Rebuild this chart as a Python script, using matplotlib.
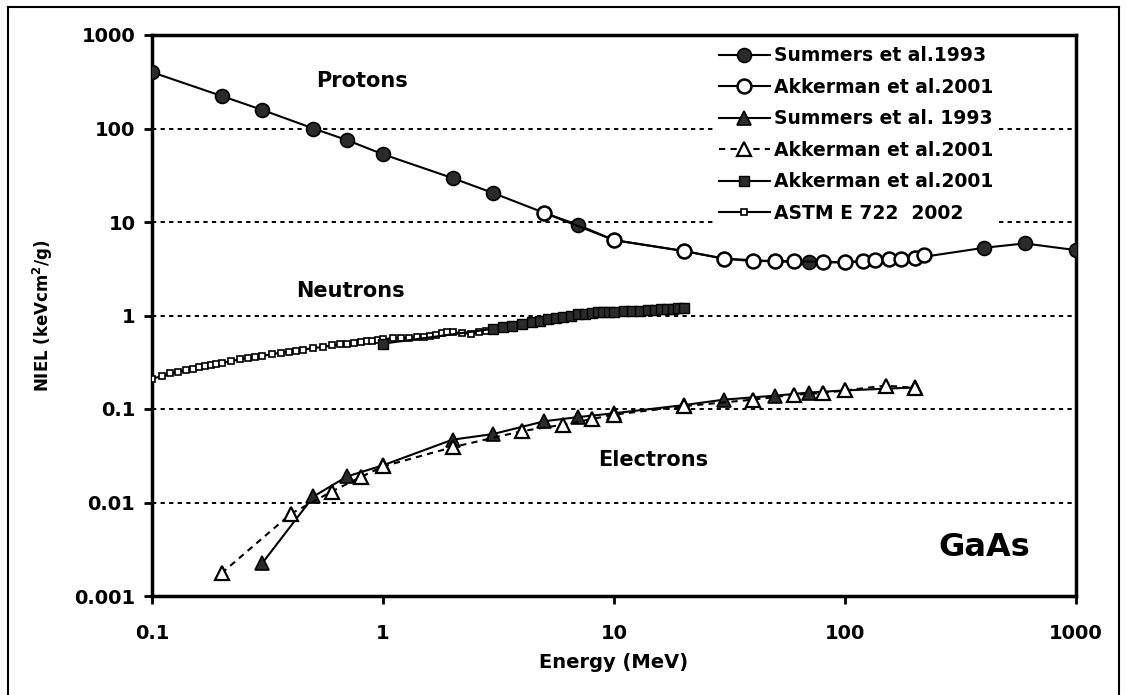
import matplotlib
matplotlib.use("Agg")
import matplotlib.pyplot as plt
from matplotlib.lines import Line2D

plt.rcParams['font.family'] = ['DejaVu Sans']
plt.rcParams['font.weight'] = 'bold'

# protons
p_summers_e = [0.1, 0.2, 0.3, 0.5, 0.7, 1, 2, 3, 5, 7, 10, 20, 30, 50, 70, 100, 200, 400, 600, 1000]
p_summers_v = [400, 223, 158, 100, 75, 53, 29.5, 20.4, 12.5, 9.3, 6.4, 4.9, 4.05, 3.8, 3.7, 3.7, 4.1, 5.3, 5.9, 5.0]
p_akker_e = [5, 10, 20, 30, 40, 50, 60, 80, 100, 120, 135, 155, 175, 200, 220]
p_akker_v = [12.5, 6.4, 4.9, 4.05, 3.82, 3.82, 3.8, 3.75, 3.72, 3.8, 3.9, 3.98, 4.05, 4.15, 4.4]

# electrons
e_summers_e = [0.3, 0.5, 0.7, 1, 2, 3, 5, 7, 10, 20, 30, 50, 70, 100, 200]
e_summers_v = [0.00224, 0.0116, 0.019, 0.025, 0.047, 0.054, 0.074, 0.082, 0.09, 0.11, 0.126, 0.139, 0.15, 0.158, 0.17]
e_akker_e = [0.2, 0.4, 0.6, 0.8, 1, 2, 4, 6, 8, 10, 20, 40, 60, 80, 100, 150, 200]
e_akker_v = [0.00175, 0.0076, 0.0131, 0.0187, 0.0243, 0.039, 0.058, 0.068, 0.078, 0.087, 0.107, 0.126, 0.142, 0.148, 0.158, 0.178, 0.168]

# neutrons
n_astm_e = [0.10, 0.11, 0.12, 0.13, 0.14, 0.15, 0.16, 0.17, 0.18, 0.19, 0.20, 0.22, 0.24, 0.26, 0.28,
            0.30, 0.33, 0.36, 0.39, 0.42, 0.45, 0.50, 0.55, 0.60, 0.65, 0.70, 0.75, 0.80, 0.85, 0.90,
            0.95, 1.0, 1.1, 1.2, 1.3, 1.4, 1.5, 1.6, 1.7, 1.8, 1.9, 2.0, 2.2, 2.4, 2.6, 2.8, 3.0, 3.2,
            3.4, 3.6, 3.8, 4.0]
n_astm_v = [0.21, 0.225, 0.24, 0.25, 0.26, 0.27, 0.28, 0.29, 0.295, 0.30, 0.31, 0.325, 0.34, 0.35, 0.36,
            0.37, 0.385, 0.40, 0.41, 0.42, 0.43, 0.45, 0.46, 0.48, 0.49, 0.50, 0.51, 0.52, 0.53, 0.54,
            0.55, 0.56, 0.57, 0.575, 0.58, 0.585, 0.59, 0.60, 0.62, 0.65, 0.66, 0.66, 0.65, 0.64, 0.66,
            0.68, 0.70, 0.72, 0.74, 0.76, 0.78, 0.80]
n_akker_e = [1.0, 3.0, 3.3, 3.6, 4.0, 4.4, 4.8, 5.2, 5.6, 6.0, 6.5, 7.0, 7.5, 8.0, 8.5, 9.0, 9.5, 10,
             11, 12, 13, 14, 15, 16, 17, 18, 19, 20]
n_akker_v = [0.50, 0.72, 0.75, 0.78, 0.82, 0.85, 0.88, 0.91, 0.93, 0.96, 1.0, 1.03, 1.05, 1.07, 1.08,
             1.09, 1.10, 1.10, 1.11, 1.12, 1.13, 1.14, 1.15, 1.16, 1.17, 1.18, 1.19, 1.20]

xticks = [0.1, 1, 10, 100, 1000]
xlabels = ['0.1', '1', '10', '100', '1000']
yticks = [0.001, 0.01, 0.1, 1, 10, 100, 1000]
ylabels = ['0.001', '0.01', '0.1', '1', '10', '100', '1000']

W, H = 1127, 695
fig = plt.figure(figsize=(W / 100, H / 100), dpi=100)
ax = fig.add_axes([152 / W, 1 - 596 / H, (1076 - 152) / W, (596 - 35) / H])
ax.set_xscale('log')
ax.set_yscale('log')
ax.set_xlim(0.1, 1000)
ax.set_ylim(0.001, 1000)

for v in [0.01, 0.1, 1, 10, 100]:
    ax.axhline(v, color='black', ls=(0, (2.2, 2.2)), lw=1.4, zorder=1)

dark = '#2b2b2b'
lw = 1.5
h1, = ax.plot(p_summers_e, p_summers_v, '-o', color='black', lw=lw, ms=10, mfc=dark, mec='black', mew=1.2, zorder=3,
              label='Summers et al.1993')
h2, = ax.plot(p_akker_e, p_akker_v, '-o', color='black', lw=lw, ms=10, mfc='white', mec='black', mew=1.8, zorder=4,
              label='Akkerman et al.2001')
h3, = ax.plot(e_summers_e, e_summers_v, '-^', color='black', lw=lw, ms=10, mfc=dark, mec='black', mew=1.2, zorder=3,
              label='Summers et al. 1993')
h4, = ax.plot(e_akker_e, e_akker_v, ls=(0, (3, 2.5)), marker='^', color='black', lw=lw, ms=10, mfc='white',
              mec='black', mew=1.6, zorder=4, label='Akkerman et al.2001')
h6, = ax.plot(n_astm_e, n_astm_v, '-s', color='black', lw=lw, ms=5, mfc='white', mec='black', mew=1.2, zorder=3,
              label='ASTM E 722  2002')
h5, = ax.plot(n_akker_e, n_akker_v, '-s', color='black', lw=lw, ms=7, mfc=dark, mec='black', mew=1.0, zorder=4,
              label='Akkerman et al.2001')

ax.set_xticks(xticks)
ax.set_xticklabels(xlabels)
ax.set_yticks(yticks)
ax.set_yticklabels(ylabels)
ax.minorticks_off()
ax.tick_params(direction='out', length=6, width=2, labelsize=14)
ax.tick_params(axis='x', pad=14)
ax.tick_params(axis='y', pad=6)
for s in ax.spines.values():
    s.set_linewidth(2.5)

ax.set_xlabel('Energy (MeV)', fontsize=14, fontweight='bold', labelpad=7)
ax.set_ylabel('NIEL (keVcm$^\\mathbf{2}$/g)', fontsize=12, fontweight='bold', labelpad=14)

ax.text(0.81, 320, 'Protons', fontsize=15, fontweight='bold', ha='center', va='center')
ax.text(0.72, 1.83, 'Neutrons', fontsize=15, fontweight='bold', ha='center', va='center')
ax.text(14.8, 0.0285, 'Electrons', fontsize=15, fontweight='bold', ha='center', va='center')
ax.text(400, 0.0033, 'GaAs', fontsize=23, fontweight='bold', ha='center', va='center')

handles = [h1, h2, h3, h4, h5, h6]
leg = ax.legend(handles, [h.get_label() for h in handles],
                loc='upper left', bbox_to_anchor=(706 / W, 1 - 33 / H), bbox_transform=fig.transFigure,
                fontsize=13.5, handlelength=2.7, handletextpad=0.2, labelspacing=0.67, borderpad=0.2,
                frameon=True, fancybox=False, framealpha=1, facecolor='white', edgecolor='none')
leg.set_zorder(5)

# outer frame
for xs, ys in [([8, 8], [0, 7]), ([8, 1119], [7, 7]), ([1119, 1119], [7, 0])]:
    fig.add_artist(Line2D([x / W for x in xs], [1 - y / H if y else 0 for y in ys],
                          transform=fig.transFigure, color='black', lw=1.5))

fig.savefig('out.png', dpi=100)
